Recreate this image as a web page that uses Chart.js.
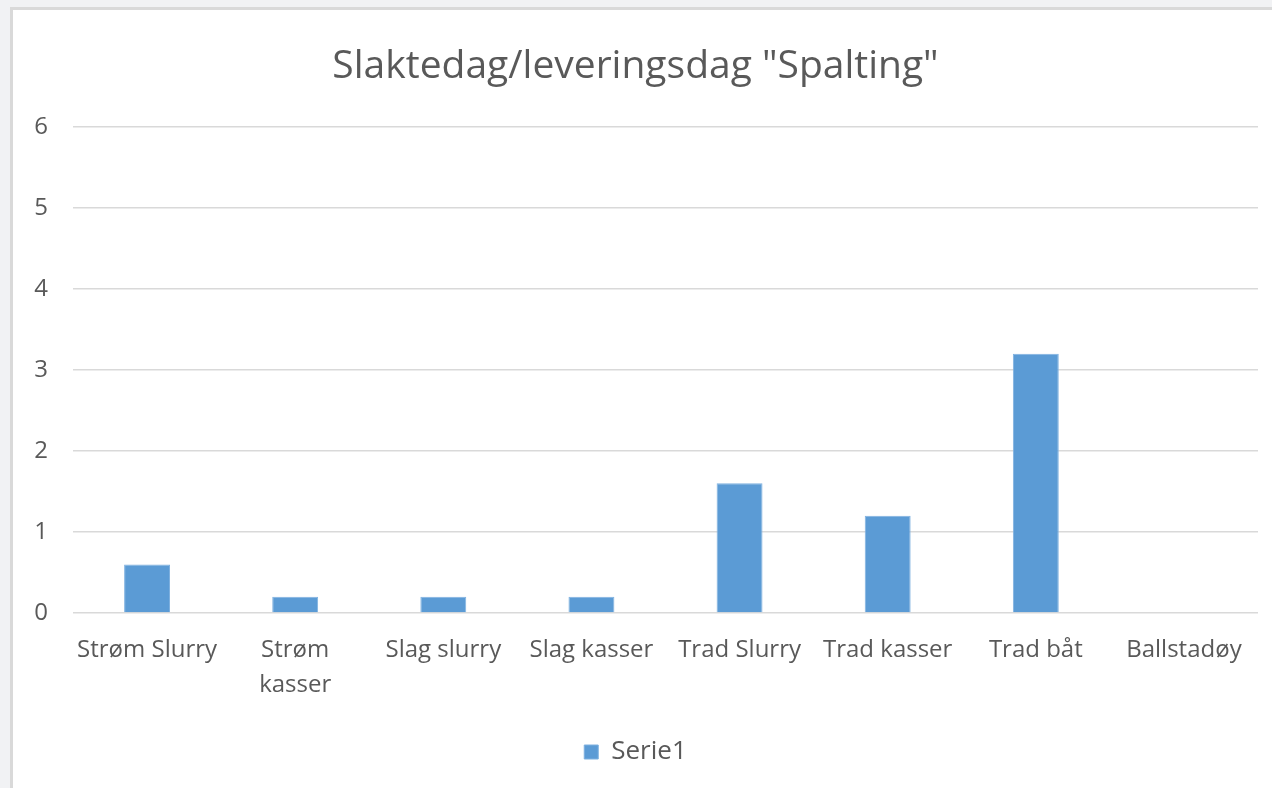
<!DOCTYPE html>
<html>
<head>
<meta charset="utf-8">
<script src="https://cdn.jsdelivr.net/npm/chart.js@4"></script>
<style>
  html, body { margin: 0; padding: 0; background: #f1f2f4; overflow: hidden; }
  #box {
    position: absolute; left: 10px; top: 7px;
    width: 1280px; height: 800px;
    border: 3px solid #d9d9d9; background: #fff;
  }
  #wrap { position: absolute; left: 0; top: 0; width: 1259px; height: 778px; }
</style>
</head>
<body>
<div id="box"><div id="wrap"><canvas id="chart"></canvas></div></div>
<script>
const categories = ['Strøm Slurry', ['Strøm', 'kasser'], 'Slag slurry', 'Slag kasser', 'Trad Slurry', 'Trad kasser', 'Trad båt', 'Ballstadøy'];
const serie1 = [0.6, 0.2, 0.2, 0.2, 1.6, 1.2, 3.2, 0];
const yMin = 0;
const yMax = 6;
const yStep = 1;

const textColor = '#595959';
const fontFamily = '"Open Sans", "Noto Sans", sans-serif';

new Chart(document.getElementById('chart'), {
    type: 'bar',
    data: {
        labels: categories,
        datasets: [{
            label: 'Serie1',
            data: serie1,
            backgroundColor: '#5b9bd5',
            borderColor: '#7fb1e0',
            borderWidth: 1,
            barPercentage: 0.31,
            categoryPercentage: 1
        }]
    },
    options: {
        responsive: true,
        maintainAspectRatio: false,
        animation: false,
        layout: { padding: { left: 0, right: 14, top: 0, bottom: 13 } },
        plugins: {
            title: {
                display: true,
                text: 'Slaktedag/leveringsdag "Spalting"',
                color: textColor,
                font: { family: fontFamily, size: 39, weight: 'normal', lineHeight: 1.2 },
                padding: { top: 33, bottom: 37 }
            },
            legend: {
                position: 'bottom',
                labels: {
                    color: textColor,
                    boxWidth: 14,
                    boxHeight: 14,
                    padding: 10,
                    font: { family: fontFamily, size: 26 }
                }
            },
            tooltip: { enabled: false }
        },
        scales: {
            x: {
                grid: { display: false, drawTicks: false },
                border: { display: false },
                ticks: {
                    color: textColor,
                    autoSkip: false,
                    maxRotation: 0,
                    padding: 20,
                    font: { family: fontFamily, size: 24, lineHeight: 1.46 }
                },
                afterFit: scale => { scale.height = 116; }
            },
            y: {
                min: yMin,
                max: yMax,
                grid: { color: '#d9d9d9', lineWidth: 1.5, drawTicks: false },
                border: { display: false },
                ticks: {
                    stepSize: yStep,
                    color: textColor,
                    padding: 25,
                    font: { family: fontFamily, size: 24 }
                },
                afterFit: scale => { scale.width = 60; }
            }
        }
    }
});
</script>
</body>
</html>
